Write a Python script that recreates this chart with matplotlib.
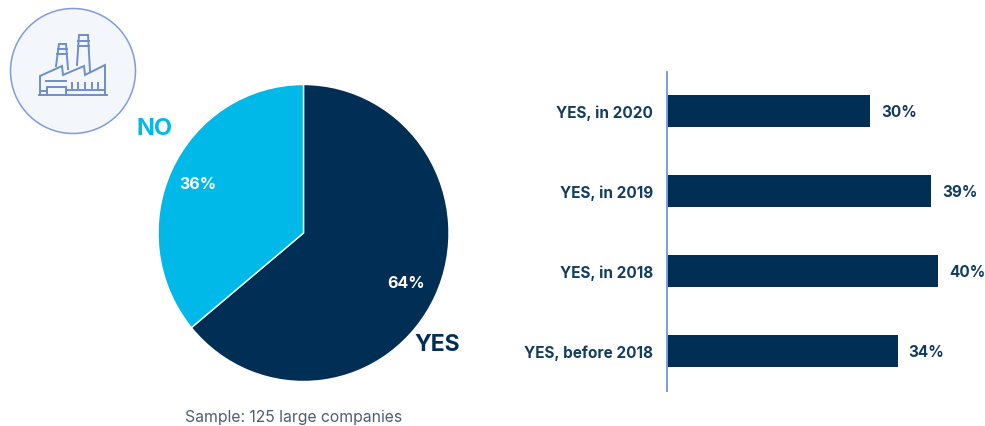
import matplotlib
matplotlib.use("Agg")
import matplotlib.pyplot as plt
from matplotlib.patches import Circle

plt.rcParams['font.family'] = ['Inter', 'DejaVu Sans']

W, H = 985, 427

# pie data
pie_labels = ['YES', 'NO']
pie_values = [64, 36]

# bar data, top to bottom
bar_labels = ['YES, in 2020', 'YES, in 2019', 'YES, in 2018', 'YES, before 2018']
bar_values = [30, 39, 40, 34]

NAVY = '#012e55'
CYAN = '#00b9e8'
BLUE = '#7f9cdb'


def fig_axes(fig, left, top, right, bottom):
    # axes placed with pixel edges, y counted from the top
    return fig.add_axes([left / W, 1 - bottom / H, (right - left) / W, (bottom - top) / H])


fig = plt.figure(figsize=(W / 100, H / 100), dpi=100, facecolor='white')

# pie, slightly taller than wide
ax_pie = fig_axes(fig, 158, 85.5, 449, 382.5)
ax_pie.pie(pie_values, colors=[NAVY, CYAN], startangle=90, counterclock=False, radius=1,
           wedgeprops=dict(edgecolor='white', linewidth=1, clip_on=False))
ax_pie.set_aspect('auto')
ax_pie.set_xlim(-1, 1)
ax_pie.set_ylim(-1, 1)
ax_pie.axis('off')

# bars
ax_bar = fig_axes(fig, 667, 73, 967, 392)
ypos = list(range(len(bar_values)))
ax_bar.barh(ypos, bar_values, height=0.4, color=NAVY, left=0)
ax_bar.set_xlim(0, 300 / 6.78)
ax_bar.set_ylim(3.5, -0.49)
ax_bar.set_yticks(ypos)
ax_bar.set_yticklabels(bar_labels, fontsize=11, fontweight='bold', color='#123c60')
ax_bar.set_xticks([])
ax_bar.tick_params(axis='y', length=0, pad=10)
for side in ['top', 'right', 'bottom']:
    ax_bar.spines[side].set_visible(False)
ax_bar.spines['left'].set_color(BLUE)
ax_bar.spines['left'].set_linewidth(1.4)
for y, v in zip(ypos, bar_values):
    ax_bar.annotate(f'{v}%', (v, y), xytext=(8, 0), textcoords='offset points',
                    va='center', ha='left', fontsize=11, fontweight='bold', color='#123c60')

# overlay in pixel coordinates for the icon and the free text
ov = fig.add_axes([0, 0, 1, 1], zorder=5)
ov.set_xlim(0, W)
ov.set_ylim(H, 0)
ov.axis('off')
ov.patch.set_alpha(0)

ov.text(198, 185, f'{pie_values[1]}%', color='white', fontsize=11.5, fontweight='bold', ha='center', va='center')
ov.text(406, 284, f'{pie_values[0]}%', color='white', fontsize=11.5, fontweight='bold', ha='center', va='center')
ov.text(155, 129, pie_labels[1], color=CYAN, fontsize=17, fontweight='bold', ha='center', va='center')
ov.text(437, 345, pie_labels[0], color=NAVY, fontsize=16.5, fontweight='bold', ha='center', va='center')
ov.text(294, 418, 'Sample: 125 large companies', color='#4c5d74', fontsize=11.3, ha='center', va='center')

# factory icon
ov.add_patch(Circle((73, 72), 62.5, facecolor='#f3f6fb', edgecolor=BLUE, linewidth=1.1))
icon_lines = [
    ([39, 107], [96, 96]),
    ([40, 40, 62, 63, 84, 85, 105, 105], [96, 77, 67, 76, 67, 76, 66, 96]),
    ([56, 59, 66, 68], [67, 45, 45, 70]),
    ([58, 67], [50, 50]),
    ([57, 67], [55, 55]),
    ([77, 79, 88, 90], [66, 36, 36, 72]),
    ([78, 89], [42, 42]),
    ([78, 89], [47, 47]),
    ([46, 66], [82, 82]),
    ([47, 47, 66, 66], [96, 88, 88, 96]),
    ([66, 105], [91, 91]),
    ([40, 47], [92, 92]),
]
for xs, ys in icon_lines:
    ov.plot(xs, ys, color='#6f8fc9', lw=1.4, solid_joinstyle='miter')
for x in [72, 78, 85, 92, 98]:
    ov.plot([x, x], [84, 89], color='#6f8fc9', lw=1.4)

fig.savefig('out.png', dpi=100)
